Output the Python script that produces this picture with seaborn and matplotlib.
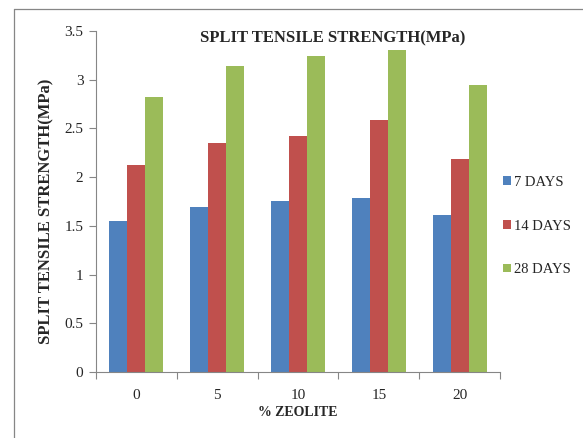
import matplotlib
matplotlib.use("Agg")
import matplotlib.pyplot as plt
import seaborn as sns
import pandas as pd
import numpy as np
from matplotlib.lines import Line2D

categories = ["0", "5", "10", "15", "20"]
series_names = ["7 DAYS", "14 DAYS", "28 DAYS"]
days7 = [1.55, 1.69, 1.75, 1.79, 1.61]
days14 = [2.12, 2.35, 2.42, 2.59, 2.19]
days28 = [2.82, 3.14, 3.24, 3.30, 2.95]
colors = ["#4F81BD", "#C0504D", "#9BBB59"]

rows = []
for name, vals in zip(series_names, [days7, days14, days28]):
    for c, v in zip(categories, vals):
        rows.append({"zeolite": c, "series": name, "value": v})
df = pd.DataFrame(rows)

sns.set_theme(style="white")
plt.rcParams["font.family"] = ["Liberation Serif", "DejaVu Serif"]

fig = plt.figure(figsize=(5.83, 4.38), dpi=100)
ax = fig.add_axes([96/583, 1-372/438, (500-96)/583, (372-31)/438])

sns.barplot(data=df, x="zeolite", y="value", hue="series", order=categories,
            hue_order=series_names, palette=colors, width=2/3, gap=0,
            saturation=1, ax=ax, legend=True, edgecolor="none", linewidth=0)

ax.set_ylim(0, 3.5)
ax.set_xlim(-0.5, 4.5)
ax.set_yticks(np.arange(0, 3.51, 0.5))
ax.set_yticklabels(["0", "0.5", "1", "1.5", "2", "2.5", "3", "3.5"])
ax.tick_params(axis="y", which="major", length=5, width=0.8, color="#868686",
               labelsize=11, pad=4, left=True)
ax.tick_params(axis="x", which="major", length=0, labelsize=11, pad=12)
ax.set_xticks(np.arange(-0.5, 4.6, 1.0), minor=True)
ax.tick_params(axis="x", which="minor", length=5, width=0.8, color="#868686", bottom=True)
for s in ["top", "right"]:
    ax.spines[s].set_visible(False)
for s in ["left", "bottom"]:
    ax.spines[s].set_color("#868686")
    ax.spines[s].set_linewidth(0.8)
ax.grid(False)

ax.set_xlabel("% ZEOLITE", fontsize=10, fontweight="bold", labelpad=3)
ax.set_ylabel("SPLIT TENSILE STRENGTH(MPa)", fontsize=12, fontweight="bold")
ax.yaxis.set_label_coords(-42/404, (372-211)/341)

fig.text(333/583, 1-38/438, "SPLIT TENSILE STRENGTH(MPa)", ha="center", va="center",
         fontsize=12, fontweight="bold")

handles, labels = ax.get_legend_handles_labels()
ax.legend(handles, labels, loc="upper left", bbox_to_anchor=(503/583, 1-176/438),
          bbox_transform=fig.transFigure, frameon=False, fontsize=10.5,
          handlelength=0.55, handleheight=0.55, handletextpad=0.2,
          labelspacing=2.1, borderaxespad=0, borderpad=0)

# chart border (left and top)
fig.add_artist(Line2D([14/583, 14/583], [0, 1-9/438], transform=fig.transFigure,
                      color="#868686", linewidth=0.9))
fig.add_artist(Line2D([14/583, 1], [1-9/438, 1-9/438], transform=fig.transFigure,
                      color="#868686", linewidth=0.9))

fig.savefig("out.png", dpi=100)
